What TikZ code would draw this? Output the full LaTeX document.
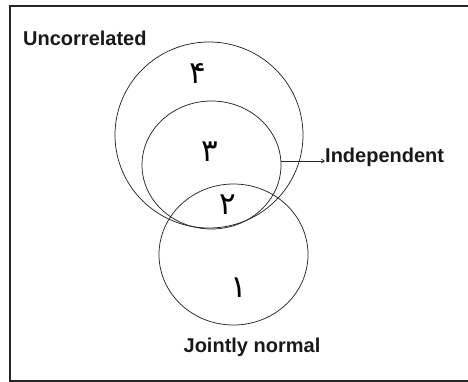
\documentclass[tikz,border=0pt]{standalone}
\usepackage{fontspec}
\setmainfont{Liberation Sans}
\newfontfamily\arabicfont[Script=Arabic]{DejaVu Sans}
\TeXXeTstate=1
\usetikzlibrary{arrows.meta}
\begin{document}
\begin{tikzpicture}[x=1pt,y=-1pt,
  setcircle/.style={draw=black!85, line width=0.75pt},
  lbl/.style={font=\bfseries\fontsize{20}{20}\selectfont, text=black!90, inner sep=0pt, anchor=center},
  digit/.style={font=\arabicfont\fontsize{31}{31}\selectfont, inner sep=0pt, anchor=center}]
\useasboundingbox (0,0) rectangle (468,381);
\begin{scope}
\clip (0,0) rectangle (468,381);
\draw[line width=2pt, black!85] (10,6) rectangle (470,380.5);
\end{scope}
\draw[setcircle] (209,135) ellipse [x radius=94, y radius=93];
\draw[setcircle] (211.5,165) ellipse [x radius=69.5, y radius=64];
\draw[setcircle] (233.5,254.5) ellipse [x radius=74.5, y radius=70.5];
\coordinate (indstart) at (281,161);
\node[lbl, anchor=west] (ind) at (325,157) {Independent};
\node[lbl, anchor=west] (unc) at (23,38) {Uncorrelated};
\node[lbl] (jn) at (252,347) {Jointly normal};
\draw[line width=0.75pt, black!85, -{Straight Barb[length=3pt,width=4pt]}] (indstart) -- (ind.west |- indstart);
\node[digit] (d4) at (198,74) {\beginR ۴\endR};
\node[digit] (d3) at (210,152) {\beginR ۳\endR};
\node[digit] (d2) at (228,205) {\beginR ۲\endR};
\node[digit] (d1) at (239,288) {\beginR ۱\endR};
\end{tikzpicture}
\end{document}
